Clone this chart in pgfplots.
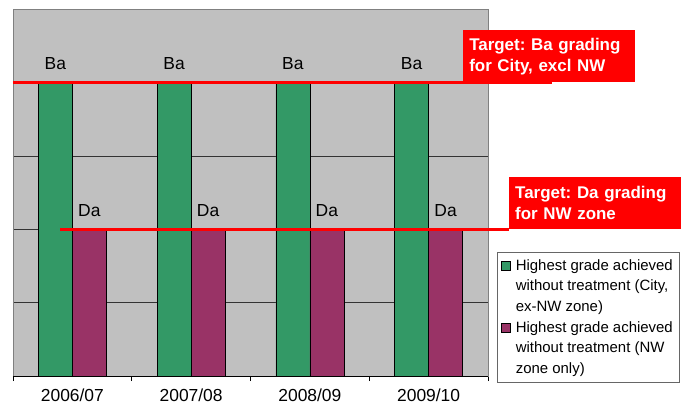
\documentclass[border=0pt]{standalone}
\usepackage{fontspec}
\setmainfont{Liberation Sans}
\usepackage{pgfplots}
\pgfplotsset{compat=1.18}
\definecolor{bgray}{HTML}{C0C0C0}
\definecolor{xgreen}{HTML}{339966}
\definecolor{xpurple}{HTML}{993366}
\frenchspacing
\begin{document}
\begin{tikzpicture}[x=1bp,y=1bp]
\path[use as bounding box] (-13bp,-33bp) rectangle (680bp,376bp);
\begin{axis}[
  at={(0,0)}, anchor=origin,
  scale only axis,
  width=475bp, height=367bp,
  xmin=0.5, xmax=4.5, ymin=0, ymax=5,
  clip=false,
  ybar=0pt, bar width=34bp,
  axis background/.style={fill=bgray},
  axis line style={draw=black!50},
  xtick={1,2,3,4},
  xticklabels={2006/07,2007/08,2008/09,2009/10},
  minor xtick={0.5,1.5,2.5,3.5,4.5},
  xtick pos=bottom,
  tick align=outside,
  major tick length=0pt,
  minor tick length=5bp,
  minor tick style={black, line width=0.6bp},
  ytick={1,2,3,4},
  yticklabels={},
  ymajorgrids,
  grid style={black!80, line width=0.6bp},
  /pgf/number format/assume math mode=true,
  xticklabel style={font=\fontsize{17.5}{21}\selectfont, yshift=-9bp},
  legend style={at={(rel axis cs:1.019,0.338)}, anchor=north west,
    draw=black!60, fill=white, font=\fontsize{15}{20.5}\selectfont,
    cells={align=left, anchor=north west, inner xsep=2bp, inner ysep=1bp}, row sep=5bp,
    /tikz/every odd column/.style={column sep=3bp},
    inner xsep=4bp, inner ysep=5bp},
  legend image code/.code={\draw[#1, draw=black, line width=0.6bp] (0bp,-13bp) rectangle (9bp,-4bp);},
]
\addplot[fill=xgreen, draw=black, line width=0.6bp,
  nodes near coords={Ba},
  every node near coord/.append style={font=\fontsize{17.5}{21}\selectfont, black, yshift=9bp}]
  coordinates {(1,4) (2,4) (3,4) (4,4)};
\addlegendentry{Highest grade achieved\\without treatment (City,\\ex-NW zone)}
\addplot[fill=xpurple, draw=black, line width=0.6bp,
  nodes near coords={Da},
  every node near coord/.append style={font=\fontsize{17.5}{21}\selectfont, black, yshift=9bp}]
  coordinates {(1,2) (2,2) (3,2) (4,2)};
\addlegendentry{Highest grade achieved\\without treatment (NW\\zone only)}
\addplot[sharp plot, red, line width=3bp, forget plot] coordinates {(0.5,4) (5.039,4)};
\addplot[sharp plot, red, line width=3bp, forget plot] coordinates {(0.896,2) (4.677,2)};
\draw[black, line width=0.8bp] (rel axis cs:0,0) -- (rel axis cs:1,0);
\node[anchor=south west, fill=red, text=white, minimum width=172bp, minimum height=52bp,
  inner xsep=6bp, align=left, font=\bfseries\fontsize{17}{21}\selectfont, text width=160bp]
  at (axis cs:4.29,4) {Target: Ba grading\\for City, excl NW};
\node[anchor=south west, fill=red, text=white, minimum width=172bp, minimum height=52bp,
  inner xsep=6bp, align=left, font=\bfseries\fontsize{17}{21}\selectfont, text width=160bp]
  at (axis cs:4.677,2) {Target: Da grading\\for NW zone};
\end{axis}
\end{tikzpicture}
\end{document}
